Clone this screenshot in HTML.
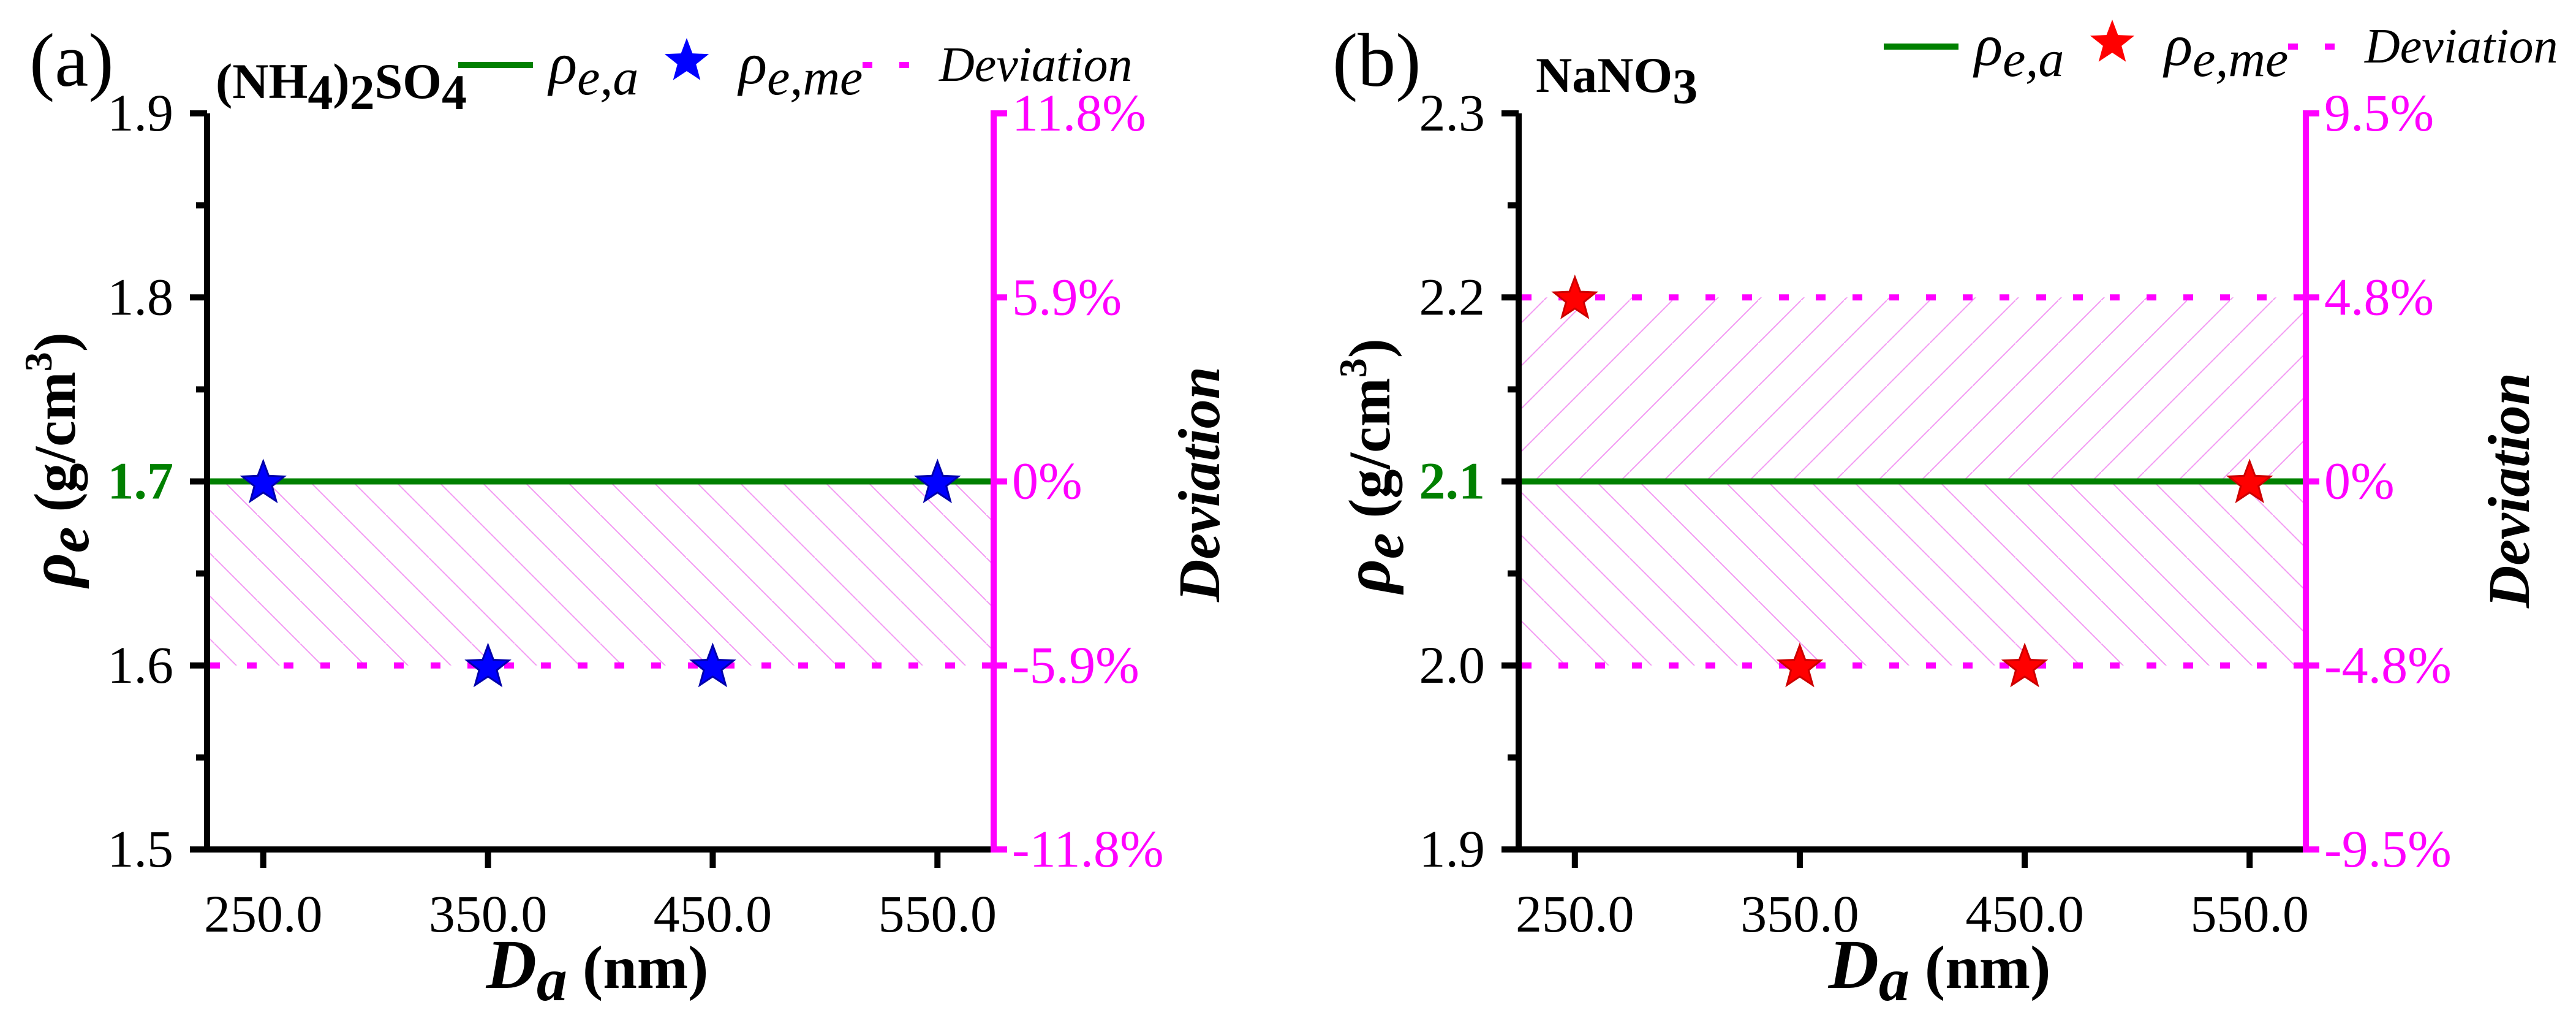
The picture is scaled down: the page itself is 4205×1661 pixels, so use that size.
<!DOCTYPE html>
<html><head><meta charset="utf-8"><style>
html,body{margin:0;padding:0;background:#fff;}
svg{display:block;}
svg text{font-family:"Liberation Serif","DejaVu Serif",serif;}
</style></head><body>
<svg id="chart" width="4205" height="1661" viewBox="0 0 4205 1661" xmlns="http://www.w3.org/2000/svg" font-family="Liberation Serif, DejaVu Serif, serif">
<defs>
<pattern id="hatchBack" patternUnits="userSpaceOnUse" width="70" height="70">
<line x1="0" y1="0" x2="70" y2="70" stroke="#f39af3" stroke-width="2"/>
</pattern>
<pattern id="hatchFwd" patternUnits="userSpaceOnUse" width="70" height="70">
<line x1="0" y1="70" x2="70" y2="0" stroke="#f39af3" stroke-width="2"/>
</pattern>
</defs>
</svg>
<script>
// Panel (a) data
const xCatsA = [250, 350, 450, 550];
const measuredA = [1.7, 1.6, 1.6, 1.7];
const actualA = 1.7;
const devLinesA = [1.6];
const yTicksA = [1.5, 1.6, 1.7, 1.8, 1.9];
const yTickLabelsA = ["1.5", "1.6", "1.7", "1.8", "1.9"];
const rTickLabelsA = ["-11.8%", "-5.9%", "0%", "5.9%", "11.8%"];
// Panel (b) data
const xCatsB = [250, 350, 450, 550];
const measuredB = [2.2, 2.0, 2.0, 2.1];
const actualB = 2.1;
const devLinesB = [2.2, 2.0];
const yTicksB = [1.9, 2.0, 2.1, 2.2, 2.3];
const yTickLabelsB = ["1.9", "2.0", "2.1", "2.2", "2.3"];
const rTickLabelsB = ["-9.5%", "-4.8%", "0%", "4.8%", "9.5%"];
const xTicks = [250, 350, 450, 550];
const xTickLabels = ["250.0", "350.0", "450.0", "550.0"];

const NS = "http://www.w3.org/2000/svg";
const svg = document.getElementById("chart");
const FONT = "Liberation Serif, DejaVu Serif, serif";
function mk(tag, attrs, parent) {
  const e = document.createElementNS(NS, tag);
  if (tag === "text") e.setAttribute("font-family", FONT);
  for (const k in attrs) e.setAttribute(k, attrs[k]);
  (parent || svg).appendChild(e);
  return e;
}
function starPts(cx, cy, R) {
  const r = R * 0.42, p = [];
  for (let i = 0; i < 10; i++) {
    const a = -Math.PI / 2 + i * Math.PI / 5, rr = i % 2 ? r : R;
    p.push((cx + rr * Math.cos(a)).toFixed(1) + "," + (cy + rr * Math.sin(a)).toFixed(1));
  }
  return p.join(" ");
}

function panel(o) {
  const g = mk("g", {});
  
  
  const L = o.left, R = o.right, T = 185, B = 1386;
  const xs = v => L + (v - 225) / 350 * (R - L);
  const ys = v => B - (v - o.yTicks[0]) / (o.yTicks[4] - o.yTicks[0]) * (B - T);

  o.devLines.forEach(d => {
    const y1 = Math.min(ys(d), ys(o.actual)), y2 = Math.max(ys(d), ys(o.actual));
    const h = mk("rect", {x: L + 5, y: y1, width: R - L - 10, height: y2 - y1, fill: d > o.actual ? "url(#hatchFwd)" : "url(#hatchBack)"}, g);
    
    
  });
  o.devLines.forEach(d => {
    const l = mk("line", {x1: L + 5, x2: R, y1: ys(d), y2: ys(d), stroke: "#ff00ff", "stroke-width": 10, "stroke-dasharray": "16 44"}, g);
    
    
  });
  const al = mk("line", {x1: L, x2: R, y1: ys(o.actual), y2: ys(o.actual), stroke: "#008000", "stroke-width": 10}, g);
  
  

  const la = mk("line", {x1: L, x2: L, y1: T, y2: B + 5, stroke: "#000", "stroke-width": 10}, g);
  
  
  o.yTicks.forEach((v, i) => {
    mk("line", {x1: L - 28, x2: L, y1: ys(v), y2: ys(v), stroke: "#000", "stroke-width": 10}, g);
    if (i < 4) {
      const mv = (v + o.yTicks[i + 1]) / 2;
      mk("line", {x1: L - 18, x2: L, y1: ys(mv), y2: ys(mv), stroke: "#000", "stroke-width": 10}, g);
    }
    const isG = Math.abs(v - o.actual) < 1e-9;
    const t = mk("text", {x: L - 55, y: ys(v) + 28, "text-anchor": "end", "font-size": 86, fill: isG ? "#008000" : "#000", "font-weight": isG ? "bold" : "normal"}, g);
    t.textContent = o.yLabels[i];
    
    
  });
  const ba = mk("line", {x1: L - 5, x2: R, y1: B, y2: B, stroke: "#000", "stroke-width": 10}, g);
  
  
  xTicks.forEach((v, i) => {
    mk("line", {x1: xs(v), x2: xs(v), y1: B, y2: B + 30, stroke: "#000", "stroke-width": 10}, g);
    const t = mk("text", {x: xs(v), y: B + 134, "text-anchor": "middle", "font-size": 86}, g);
    t.textContent = xTickLabels[i];
    
    
  });
  const ra = mk("line", {x1: R, x2: R, y1: T - 5, y2: B + 5, stroke: "#ff00ff", "stroke-width": 10}, g);
  
  
  o.yTicks.forEach((v, i) => {
    mk("line", {x1: R, x2: R + 22, y1: ys(v), y2: ys(v), stroke: "#ff00ff", "stroke-width": 10}, g);
    const t = mk("text", {x: R + 30, y: ys(v) + 28, "font-size": 86, fill: "#ff00ff"}, g);
    t.textContent = o.rLabels[i];
    
    
  });
  o.xCats.forEach((x, i) => {
    const s = mk("polygon", {points: starPts(xs(x), ys(o.measured[i]) + 3, 36), fill: o.starColor, stroke: o.starStroke, "stroke-width": 3}, g);
    
    
  });
  const yt = mk("text", {transform: `translate(${o.yTitleX},${o.yTitleY}) rotate(-90)`, "text-anchor": "middle", "font-size": 96, "font-weight": "bold"}, g);
  yt.innerHTML = '<tspan font-style="italic" font-size="108">ρ</tspan><tspan font-style="italic" dy="22" font-size="96">e</tspan><tspan dy="-22"> (g/cm</tspan><tspan dy="-38" font-size="64">3</tspan><tspan dy="38">)</tspan>';
  
  
  const rt = mk("text", {transform: `translate(${o.rTitleX},${o.yTitleY + 40}) rotate(-90)`, "text-anchor": "middle", "font-size": 96, "font-weight": "bold", "font-style": "italic"}, g);
  rt.textContent = "Deviation";
  
  
  const xt = mk("text", {x: o.xTitleX, y: 1612, "text-anchor": "middle", "font-size": 100, "font-weight": "bold"}, g);
  xt.innerHTML = '<tspan font-style="italic" font-size="114">D</tspan><tspan font-style="italic" dy="20">a</tspan><tspan dy="-20"> (nm)</tspan>';
  
  
  const pl = mk("text", {x: o.labelX, y: 140, "font-size": 124}, g);
  pl.textContent = o.label;
  
  
  const cl = mk("text", {x: o.compX, y: o.compY, "font-size": 82, "font-weight": "bold"}, g);
  cl.innerHTML = o.compound;
  
  
  const lg = mk("g", {}, g);
  
  
  const ly = o.legY;
  mk("line", {x1: o.legX, x2: o.legX + 122, y1: ly, y2: ly, stroke: "#008000", "stroke-width": 10}, lg);
  const t1 = mk("text", {x: o.legX + 148, y: ly + 30, "font-size": 96, "font-style": "italic"}, lg);
  t1.innerHTML = 'ρ<tspan font-size="84" dy="18">e,a</tspan>';
  
  
  mk("polygon", {points: starPts(o.legX + 373, ly - 6, 38), fill: o.starColor}, lg);
  const t2 = mk("text", {x: o.legX + 458, y: ly + 30, "font-size": 96, "font-style": "italic"}, lg);
  t2.innerHTML = 'ρ<tspan font-size="84" dy="18">e,me</tspan>';
  
  
  mk("line", {x1: o.legX + 660, x2: o.legX + 780, y1: ly, y2: ly, stroke: "#ff00ff", "stroke-width": 10, "stroke-dasharray": "16 44"}, lg);
  const t3 = mk("text", {x: o.legX + 785, y: ly + 26, "font-size": 80, "font-style": "italic"}, lg);
  t3.textContent = "Deviation";
  
  
}

panel({name: "panel-a", left: 338, right: 1622, xCats: xCatsA, measured: measuredA, actual: actualA, devLines: devLinesA,
  yTicks: yTicksA, yLabels: yTickLabelsA, rLabels: rTickLabelsA, starColor: "#0000ff", starStroke: "#0000aa",
  yTitleX: 122, yTitleY: 750, rTitleX: 1990, xTitleX: 975, labelX: 48, label: "(a)",
  compX: 352, compY: 160, compound: '(NH<tspan dy="18">4</tspan><tspan dy="-18">)</tspan><tspan dy="18">2</tspan><tspan dy="-18">SO</tspan><tspan dy="18">4</tspan>',
  legX: 748, legY: 106});
panel({name: "panel-b", left: 2479, right: 3764, xCats: xCatsB, measured: measuredB, actual: actualB, devLines: devLinesB,
  yTicks: yTicksB, yLabels: yTickLabelsB, rLabels: rTickLabelsB, starColor: "#ff0000", starStroke: "#cc0000",
  yTitleX: 2268, yTitleY: 760, rTitleX: 4128, xTitleX: 3166, labelX: 2175, label: "(b)",
  compX: 2507, compY: 150, compound: 'NaNO<tspan dy="18">3</tspan>',
  legX: 3075, legY: 76});
</script>
</body></html>
